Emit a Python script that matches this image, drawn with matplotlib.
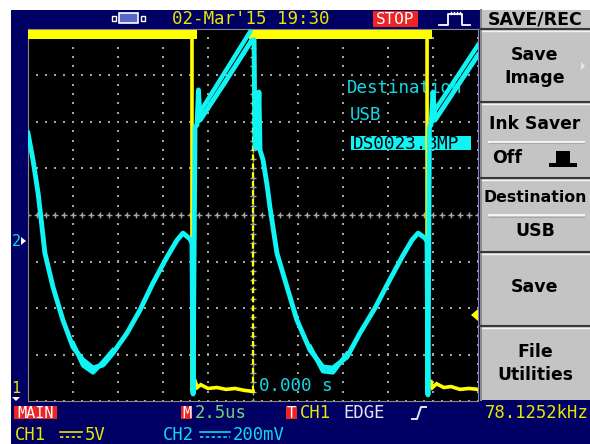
import numpy as np
import matplotlib
matplotlib.use("Agg")
import matplotlib.pyplot as plt
from matplotlib.patches import Rectangle, Polygon

# ---------------------------------------------------------------
# Scope settings
# ---------------------------------------------------------------
TIME_DIV = 2.5        # us / div
CH1_VDIV = 5.0        # V / div
CH2_VDIV = 200.0      # mV / div
CH1_OFF = -3.91       # div, ground marker "1"
CH2_OFF = -0.56       # div, ground marker "2"

# CH1 (yellow): gate drive, clipped at the top of the screen
ch1_t = [-12.5, -3.39, -3.39, -3.30, -3.20, -3.10, -2.90, -2.50, -2.00, -1.50,
         -1.00, -0.50, -0.10, 0.0, 0.0, 9.67, 9.67, 9.76, 9.86, 9.97,
         10.2, 10.6, 11.0, 11.5, 12.0, 12.5]
ch1_v = [39.0, 39.0, 0.6, 0.9, 1.6, 1.0, 1.3, 0.9, 1.0, 0.8,
         0.9, 0.7, 0.6, 0.6, 39.0, 39.0, 0.6, 0.9, 1.8, 1.0,
         1.4, 1.0, 1.1, 0.8, 0.9, 0.8]

# CH2 (cyan): current sense
ch2_t = [-12.5, -12.22, -11.94, -11.83, -11.56, -11.11, -10.56, -10.0, -9.44, -8.89,
         -8.33, -7.78, -7.0, -6.28, -5.56, -4.78, -4.22, -3.89, -3.5, -3.39,
         -3.33, -3.22, -3.11, -3.03, -2.94, -1.5, -0.06,
         0.06, 0.11, 0.22, 0.33, 0.39, 0.56, 0.78, 0.94, 1.33, 1.89,
         2.44, 3.17, 3.89, 4.44, 5.22, 5.94, 6.78, 7.5, 8.28, 8.83,
         9.17, 9.56, 9.67, 9.72, 9.80, 9.89, 10.0, 10.11, 11.3, 12.5]
ch2_mv = [464, 348, 206, 133, -52, -198, -340, -456, -512, -546,
          -533, -482, -396, -297, -181, -69, 4, 34, 9, -9,
          -658, 490, 499, 650, 520, 690, 865,
          865, 404, 400, 641, 391, 348, 241, 146, -52, -198,
          -340, -469, -542, -546, -499, -396, -288, -181, -69, 4,
          34, 13, -4, -662, 490, 499, 641, 520, 660, 800]

# second edge of the smeared sawtooth ramps
band1_t = [-2.94, -0.17]
band1_mv = [555, 899]
band2_t = [10.11, 12.5]
band2_mv = [563, 843]

# second (noisy) sweep around the valleys
valley1_t = [-10.0, -9.44, -8.89, -8.33, -7.78]
valley1_mv = [-440, -535, -565, -520, -470]
valley2_t = [3.17, 3.89, 4.44, 5.22]
valley2_mv = [-455, -560, -565, -485]

NAVY = "#000064"
PANEL = "#C4C4C4"
YEL = "#FFFF00"
YEL_TXT = "#E6E600"
CYAN = "#10F4F4"
CYAN_TXT = "#10D8E8"
RED = "#EE2424"
GRID = "#A4A4A4"
MONO = "DejaVu Sans Mono"
SANS = "DejaVu Sans"

fig = plt.figure(figsize=(5.9, 4.44), dpi=100)
fig.patch.set_facecolor("white")

# background layer in pixel coordinates (y down)
bg = fig.add_axes([0, 0, 1, 1])
bg.set_xlim(0, 590)
bg.set_ylim(444, 0)
bg.axis("off")
bg.add_patch(Rectangle((11, 10), 579, 434, fc=NAVY, ec="none"))

# ---------------- top status bar ----------------
bg.add_patch(Rectangle((112, 16), 4, 5, fc=NAVY, ec="white", lw=1))
bg.add_patch(Rectangle((119, 13.5), 19, 10, fc="#5868C8", ec="white", lw=1.2))
bg.add_patch(Rectangle((141, 16), 4, 5, fc=NAVY, ec="white", lw=1))
bg.text(172, 19.5, "02-Mar'15 19:30", color=YEL_TXT, family=MONO, size=12.6,
        ha="left", va="center")
bg.add_patch(Rectangle((373, 11), 45, 16, fc=RED, ec="none"))
bg.text(395.5, 19.5, "STOP", color="white", family=MONO, size=11.5,
        ha="center", va="center")
bg.plot([439, 448, 448, 462, 462, 470], [25, 25, 14, 14, 25, 25], color="white", lw=1.3)
for xk in [451, 454, 457, 460]:
    bg.plot([xk, xk], [12, 14], color="white", lw=1)

# ---------------- bottom status bar ----------------
bg.add_patch(Rectangle((14, 406), 43, 13, fc=RED, ec="none"))
bg.text(35.5, 413, "MAIN", color="white", family=MONO, size=11, ha="center", va="center")
bg.add_patch(Rectangle((181, 406), 11, 13, fc=RED, ec="none"))
bg.text(186.5, 413, "M", color="white", family=MONO, size=11, ha="center", va="center")
bg.text(195, 413, "2.5us", color="#70D870", family=MONO, size=12.4, ha="left", va="center")
bg.add_patch(Rectangle((286, 406), 11, 13, fc=RED, ec="none"))
bg.text(291.5, 413, "T", color="white", family=MONO, size=11, ha="center", va="center")
bg.text(300, 413, "CH1", color=YEL_TXT, family=MONO, size=12.4, ha="left", va="center")
bg.text(343, 413, "EDGE", color="#E4E4F4", family=MONO, size=12.4, ha="left", va="center")
bg.plot([412, 417, 421, 426], [419, 419, 407, 407], color="#E4E4F4", lw=1.4)
bg.text(485, 413, "78.1252kHz", color=YEL_TXT, family=MONO, size=12.4, ha="left", va="center")

bg.text(15, 435, "CH1", color=YEL_TXT, family=MONO, size=12.4, ha="left", va="center")
bg.plot([60, 82], [432, 432], color=YEL_TXT, lw=1.2)
bg.plot([60, 82], [437, 437], color=YEL_TXT, lw=1.2, ls=(0, (2, 1.5)))
bg.text(85, 435, "5V", color=YEL_TXT, family=MONO, size=12.4, ha="left", va="center")
bg.text(163, 435, "CH2", color=CYAN_TXT, family=MONO, size=12.4, ha="left", va="center")
bg.plot([200, 230], [432, 432], color=CYAN_TXT, lw=1.2)
bg.plot([200, 230], [437, 437], color=CYAN_TXT, lw=1.2, ls=(0, (2, 1.5)))
bg.text(233, 435, "200mV", color=CYAN_TXT, family=MONO, size=12.4, ha="left", va="center")

# channel ground markers
bg.text(16, 241, "2", color=CYAN_TXT, family=MONO, size=11, ha="center", va="center")
bg.add_patch(Polygon([(21, 237), (26, 241), (21, 245)], fc="white", ec="none"))
bg.text(16, 388, "1", color=YEL_TXT, family=MONO, size=11, ha="center", va="center")
bg.add_patch(Polygon([(12, 397), (20, 397), (16, 401)], fc="white", ec="none"))

# ---------------- right menu panel ----------------
bg.add_patch(Rectangle((480, 10), 110, 390, fc=PANEL, ec="none"))
bg.plot([481, 481], [10, 400], color="#8C8C8C", lw=1.5)
for yb in [29.5, 102, 178.5, 251.5, 325.5]:
    bg.plot([480, 590], [yb, yb], color="#383838", lw=1.5)
    bg.plot([482, 590], [yb + 2, yb + 2], color="#F4F4F4", lw=1)
for ys in [142, 215]:
    bg.plot([489, 584], [ys, ys], color="#F4F4F4", lw=1.5)
    bg.plot([489, 584], [ys + 1.5, ys + 1.5], color="#A8A8A8", lw=0.8)

menu = [("SAVE/REC", 19.5, 12.5), ("Save", 55, 12.5), ("Image", 78, 12.5),
        ("Ink Saver", 124, 12.3), ("Destination", 197, 11.3), ("USB", 231, 12.5),
        ("Save", 287, 12.5), ("File", 352, 12.5), ("Utilities", 375, 12.3)]
for label, yc, fs in menu:
    bg.text(535, yc, label, color="black", family=SANS, weight="bold", size=fs,
            ha="center", va="center")
bg.text(507, 158, "Off", color="black", family=SANS, weight="bold", size=12.5,
        ha="center", va="center")
bg.add_patch(Polygon([(549, 167), (549, 163), (556, 163), (556, 151), (570, 151),
                      (570, 163), (577, 163), (577, 167)], fc="black", ec="none"))
bg.add_patch(Polygon([(581, 62), (585, 66), (581, 70)], fc="#E6E6E6", ec="none"))

# ---------------- graticule ----------------
ax = fig.add_axes([28 / 590, 1 - 401 / 444, 450 / 590, 372 / 444])
ax.set_facecolor("black")
ax.set_xlim(0, 10)
ax.set_ylim(-4, 4)
ax.set_xticks([])
ax.set_yticks([])
for s in ax.spines.values():
    s.set_color("#8A8A8A")
    s.set_linewidth(0.8)

fine_y = np.arange(-4, 4.01, 0.2)
fine_x = np.arange(0, 10.01, 0.2)
for i in range(11):
    ax.plot(np.full_like(fine_y, i), fine_y, ls="none", marker="s", ms=1.5,
            mew=0, color=GRID, zorder=1)
for j in range(9):
    ax.plot(fine_x, np.full_like(fine_x, j - 4), ls="none", marker="s", ms=1.5,
            mew=0, color=GRID, zorder=1)
ax.plot(np.full_like(fine_y, 5), fine_y, ls="none", marker="+", ms=4.5, mew=1.0,
        color=GRID, zorder=1)
ax.plot(fine_x, np.zeros_like(fine_x), ls="none", marker="+", ms=4.5, mew=1.0,
        color=GRID, zorder=1)

# on-screen message from the save menu
px = bg.transData
ax.text(347, 88, "Destination", color=CYAN_TXT, family=MONO, size=12.6, ha="left",
        va="center", transform=px, clip_on=True, zorder=2)
ax.text(350, 115, "USB", color=CYAN_TXT, family=MONO, size=12.6, ha="left",
        va="center", transform=px, zorder=2)
ax.add_patch(Rectangle((351, 136), 120, 14, fc=CYAN, ec="none", transform=px, zorder=2))
ax.text(353, 143.5, "DS0023.BMP", color="black", family=MONO, size=12.8, ha="left",
        va="center", transform=px, zorder=2)
ax.text(259, 386, "0.000 s", color=CYAN_TXT, family=MONO, size=12.6, ha="left",
        va="center", transform=px, zorder=2)

# CH1 trace
x1 = np.array(ch1_t) / TIME_DIV + 5
y1 = np.array(ch1_v) / CH1_VDIV + CH1_OFF
rise = np.where((np.diff(x1) == 0) & (np.diff(y1) > 0))[0]
ax.plot(np.insert(x1, rise + 1, np.nan), np.insert(y1, rise + 1, np.nan),
        color=YEL, lw=2.6, zorder=3, solid_joinstyle="miter")
for i in rise:
    ax.plot(x1[i:i + 2], y1[i:i + 2], color=YEL, lw=1.6, ls=(0, (2.5, 1.5)), zorder=3)
ax.plot(x1, np.where(y1 > 3, y1, np.nan), color=YEL, lw=6.5, zorder=3)

# CH2 trace
x2 = np.array(ch2_t) / TIME_DIV + 5
y2 = np.array(ch2_mv) / CH2_VDIV + CH2_OFF
ax.plot(x2, y2, color=CYAN, lw=3.5, zorder=4)
for bt, bm in [(band1_t, band1_mv), (band2_t, band2_mv),
               (valley1_t, valley1_mv), (valley2_t, valley2_mv)]:
    ax.plot(np.array(bt) / TIME_DIV + 5, np.array(bm) / CH2_VDIV + CH2_OFF,
            color=CYAN, lw=3.2, zorder=4)

# trigger level marker
ax.add_patch(Polygon([(478, 309), (471, 315), (478, 321)], fc=YEL, ec="none",
                     transform=px, clip_on=False, zorder=5))

fig.savefig("out.png", dpi=100)
